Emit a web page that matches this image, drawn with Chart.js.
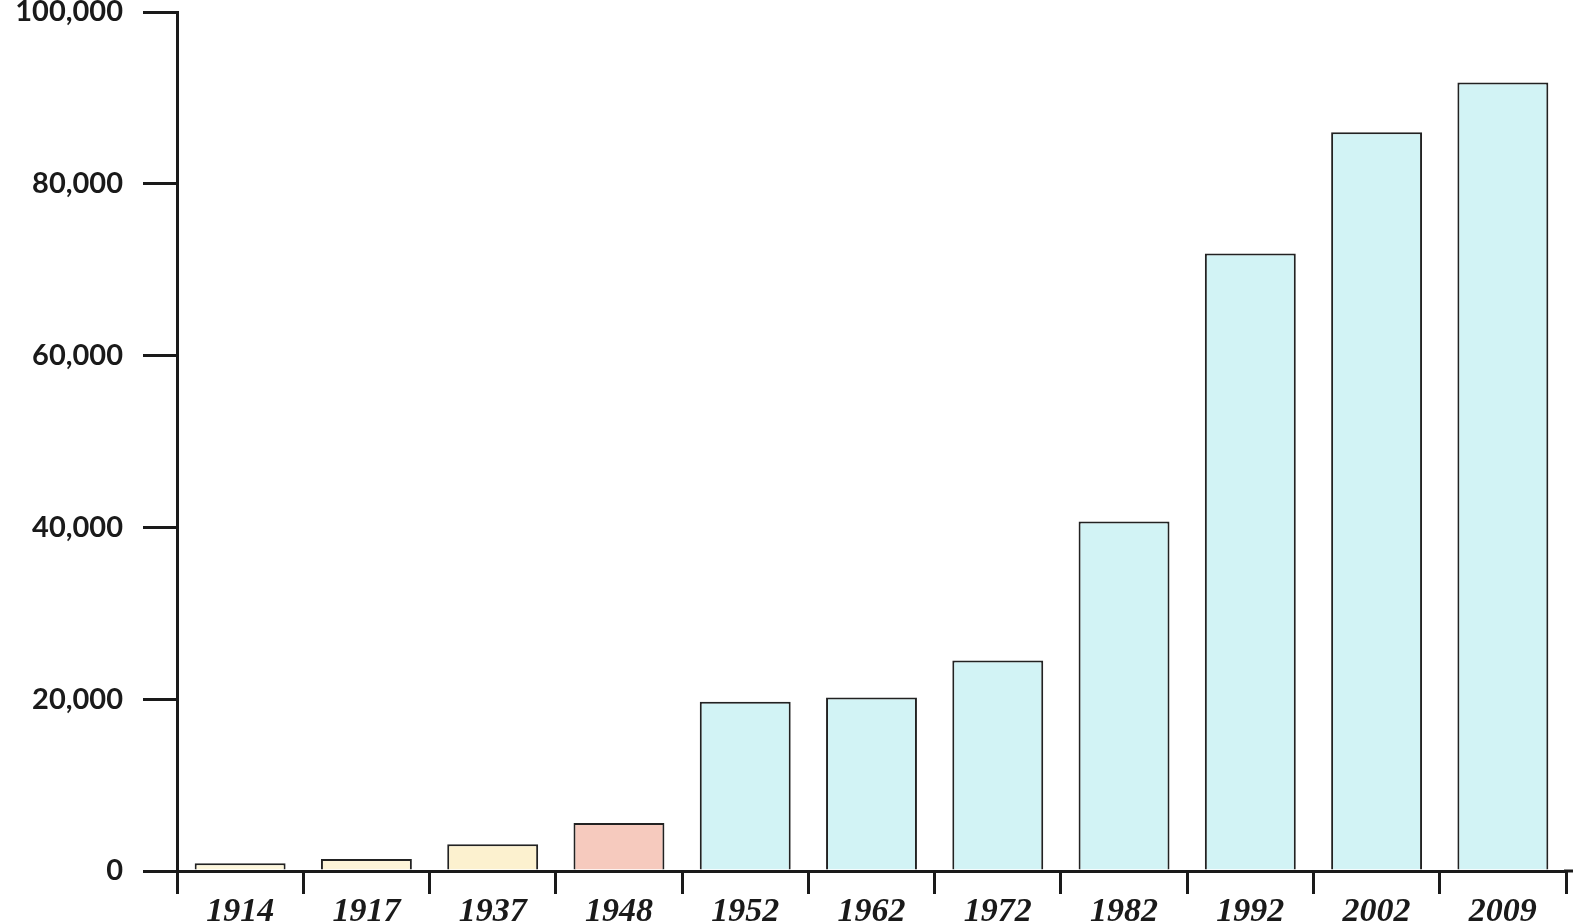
<!DOCTYPE html>
<html>
<head>
<meta charset="utf-8">
<script src="https://cdn.jsdelivr.net/npm/chart.js@4/dist/chart.umd.min.js"></script>
<style>
  html, body { margin: 0; padding: 0; background: #fff; }
  #wrap { width: 1573px; height: 923px; }
</style>
</head>
<body>
<div id="wrap"><canvas id="grafico"></canvas></div>
<script>
// dados
const anos = ['1914', '1917', '1937', '1948', '1952', '1962', '1972', '1982', '1992', '2002', '2009'];
const valores = [900, 1400, 3100, 5600, 19700, 20200, 24500, 40700, 71900, 86000, 91800];
const cores = ['#fdf6dc', '#fdf4d8', '#fcf1cf', '#f6cabe', '#d2f3f5', '#d2f3f5', '#d2f3f5', '#d2f3f5', '#d2f3f5', '#d2f3f5', '#d2f3f5'];
const ticksY = [0, 20000, 40000, 60000, 80000, 100000];

const preto = '#1a1a1a';

// estende a linha do eixo x ate a borda direita (como no original)
const eixoLongo = {
  id: 'eixoLongo',
  afterDraw(chart) {
    const c = chart.ctx;
    const y0 = chart.scales.y.getPixelForValue(0);
    c.save();
    c.strokeStyle = preto;
    c.lineWidth = 3;
    c.beginPath();
    c.moveTo(chart.chartArea.right - 2, y0);
    c.lineTo(chart.width, y0);
    c.stroke();
    c.restore();
  }
};

new Chart(document.getElementById('grafico'), {
  type: 'bar',
  data: {
    labels: anos,
    datasets: [{
      data: valores,
      backgroundColor: cores,
      borderColor: '#222',
      borderWidth: 2,
      categoryPercentage: 0.72,
      barPercentage: 1
    }]
  },
  options: {
    responsive: true,
    maintainAspectRatio: false,
    animation: false,
    layout: { padding: { top: 12, right: 7, bottom: 0 } },
    plugins: { legend: { display: false }, tooltip: { enabled: false } },
    scales: {
      x: {
        afterFit(s) { s.height = 52; s.paddingLeft = 0; s.paddingRight = 0; },
        border: { display: true, color: preto, width: 3 },
        grid: { display: true, drawOnChartArea: false, color: preto, lineWidth: 3, tickLength: 23 },
        ticks: {
          color: preto,
          padding: 0,
          maxRotation: 0,
          font: { family: 'Liberation Serif', size: 34, weight: 'bold', style: 'italic', lineHeight: 1.05 }
        }
      },
      y: {
        min: 0,
        max: 100000,
        afterFit(s) { s.width = 177; s.paddingTop = 0; s.paddingBottom = 0; },
        afterBuildTicks(s) { s.ticks = ticksY.map(v => ({ value: v })); },
        border: { display: true, color: preto, width: 3 },
        grid: { display: true, drawOnChartArea: false, color: preto, lineWidth: 3, tickLength: 34 },
        ticks: {
          color: preto,
          padding: 20,
          font: { family: 'Lato', size: 29, weight: 'bold' },
          callback: v => v.toLocaleString('en-US')
        }
      }
    }
  },
  plugins: [eixoLongo]
});
</script>
</body>
</html>
